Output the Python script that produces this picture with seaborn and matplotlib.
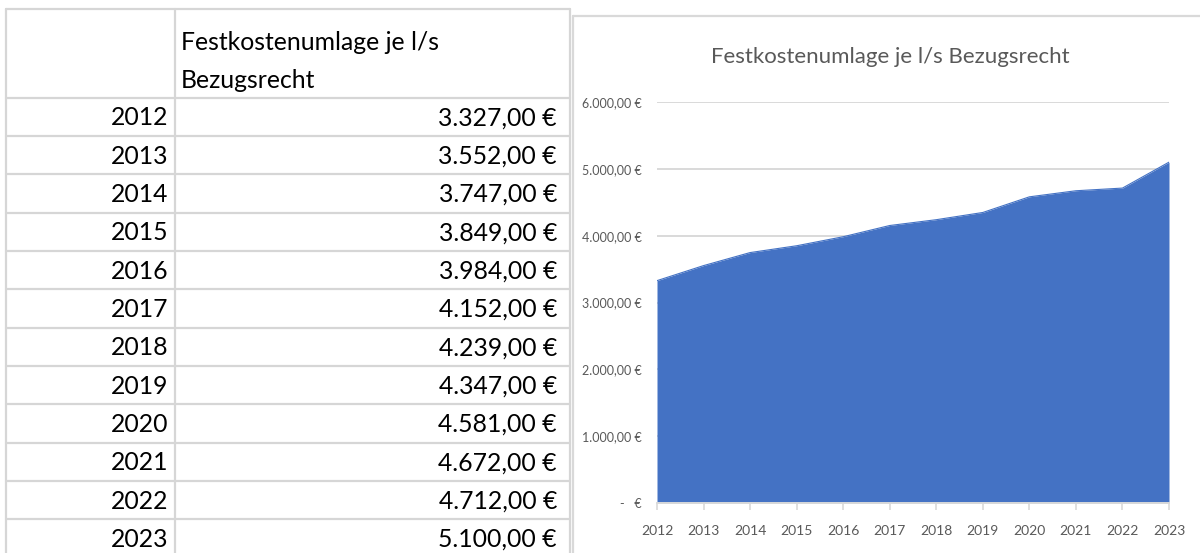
import matplotlib
matplotlib.use("Agg")
import matplotlib.pyplot as plt
from matplotlib.lines import Line2D
from matplotlib.ticker import FuncFormatter, FixedLocator
import seaborn as sns
import numpy as np

# ---- data ----
years = [2012, 2013, 2014, 2015, 2016, 2017, 2018, 2019, 2020, 2021, 2022, 2023]
values = [3327.00, 3552.00, 3747.00, 3849.00, 3984.00, 4152.00,
          4239.00, 4347.00, 4581.00, 4672.00, 4712.00, 5100.00]
header_lines = ["Festkostenumlage je l/s", "Bezugsrecht"]
chart_title = "Festkostenumlage je l/s Bezugsrecht"
y_ticks = [0, 1000, 2000, 3000, 4000, 5000, 6000]

sns.set_theme(style="white")
plt.rcParams['font.family'] = ['Lato', 'DejaVu Sans']

W, H = 1200, 553
fig = plt.figure(figsize=(W / 100, H / 100), dpi=100)
fig.patch.set_facecolor("white")


def fx(x):
    return x / W


def fy(y):
    return 1 - y / H


def de_money(v):
    if v == 0:
        return "-   €"
    s = f"{v:,.2f}".replace(",", "X").replace(".", ",").replace("X", ".")
    return s + " €"


GRID = "#d6d6d6"
TXT = "#000000"
TFS = 17.8

# ---- table (left) ----
x_left, x_div, x_right = 6, 175, 570
y_top, y_head = 9, 97.5
row_h = 38.35
n = len(years)
for yy in [y_top, y_head] + [y_head + row_h * (i + 1) for i in range(n)]:
    fig.add_artist(Line2D([fx(x_left), fx(x_right)], [fy(yy), fy(yy)],
                          transform=fig.transFigure, color=GRID, lw=1.6))
for xx in [x_left, x_div, x_right]:
    fig.add_artist(Line2D([fx(xx), fx(xx)], [fy(y_top), fy(H + 5)],
                          transform=fig.transFigure, color=GRID, lw=1.6))

fig.text(fx(181), fy(42), header_lines[0], ha="left", va="center",
         fontsize=TFS, color=TXT)
fig.text(fx(181), fy(80), header_lines[1], ha="left", va="center",
         fontsize=TFS, color=TXT)
for i, (yr, v) in enumerate(zip(years, values)):
    yc = y_head + row_h * (i + 0.5) + 1
    fig.text(fx(168), fy(yc), str(yr), ha="right", va="center",
             fontsize=TFS, color=TXT)
    fig.text(fx(557), fy(yc), de_money(v), ha="right", va="center",
             fontsize=TFS, color=TXT)

# ---- chart area border ----
fig.add_artist(Line2D([fx(573), fx(1200)], [fy(16), fy(16)],
                      transform=fig.transFigure, color="#d9d9d9", lw=1.6))
fig.add_artist(Line2D([fx(573), fx(573)], [fy(16), fy(H + 5)],
                      transform=fig.transFigure, color="#d9d9d9", lw=1.6))

# ---- chart (right) ----
ax = fig.add_axes([fx(657), fy(503), (1169 - 657) / W, (503 - 102) / H])
ax.set_facecolor("none")
ax.fill_between(years, values, 0, color="#4472C4", lw=0, zorder=2)
sns.lineplot(x=years, y=values, ax=ax, color="#4472C4", lw=0.8, zorder=3)

ax.set_xlim(years[0], years[-1])
ax.set_ylim(0, 6000)
ax.yaxis.set_major_locator(FixedLocator(y_ticks))
ax.yaxis.set_major_formatter(FuncFormatter(lambda v, p: de_money(v)))
ax.set_xticks(years)
ax.set_xticklabels([str(y) for y in years])
ax.grid(axis="y", color="#d9d9d9", lw=1.4, zorder=0)
ax.grid(axis="x", visible=False)
for s in ["top", "right", "left"]:
    ax.spines[s].set_visible(False)
ax.spines["bottom"].set_color("#d9d9d9")
ax.spines["bottom"].set_linewidth(1.4)
ax.spines["bottom"].set_zorder(4)
ax.tick_params(axis="x", bottom=True, length=5, width=1.2, color="#d9d9d9",
               labelsize=10, labelcolor="#595959", pad=11)
ax.tick_params(axis="y", left=False, labelsize=9, labelcolor="#595959", pad=5)
ax.set_xlabel("")
ax.set_ylabel("")

fig.text(fx(890), fy(57), chart_title, ha="center", va="center",
         fontsize=16, color="#595959")

fig.savefig("out.png", dpi=100, facecolor="white")
